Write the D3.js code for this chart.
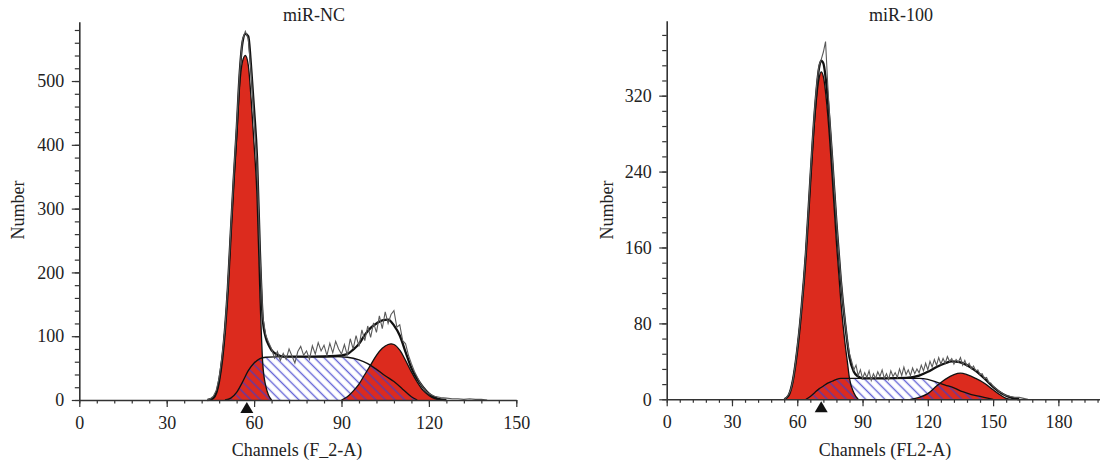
<!DOCTYPE html>
<html>
<head>
<meta charset="utf-8">
<script src="https://cdn.jsdelivr.net/npm/d3@7"></script>
<style>
  body { margin: 0; background: #fff; }
</style>
</head>
<body>
<div id="chart"></div>
<script>
//----------------------------------
// Data: [channel, number]
//----------------------------------

// miR-NC
const ncG1 = [[45,0],[46,3],[48,30],[50,110],[51,175],[52,260],[53,340],[54,410],[55,490],[56,530],[57,540],[58,525],[59,470],[60,400],[61,320],[62,165],[63,55],[64,22],[65,7],[66,0]];
const ncS = [[50,0],[52,3],[54,12],[56,28],[58,46],[60,58],[62,65],[64,67],[70,68],[80,68],[88,68],[92,67],[96,63],[99,57],[102,48],[105,38],[108,29],[111,17],[114,5],[116,0]];
const ncG2 = [[90,0],[92,5],[94,14],[96,25],[98,40],[100,55],[102,70],[104,81],[106,87],[107,88],[108,87],[110,78],[112,62],[114,44],[116,28],[118,15],[120,7],[122,2],[124,0]];
const ncFit = [[44,0],[46,3],[48,30],[50,110],[51,176],[52,263],[53,346],[54,422],[55,508],[56,560],[57,574],[58,570],[59,520],[60,455],[61,380],[62,232],[63,125],[64,98],[65,86],[66,78],[68,71],[70,68],[80,68],[88,69],[92,72],[94,79],[96,88],[98,102],[100,113],[102,120],[104,125],[106,126],[108,117],[110,101],[112,75],[114,50],[116,33],[118,20],[120,10],[122,4],[124,1],[126,0]];
const ncRaw = [[44,0],[45,2],[46,6],[47,15],[48,35],[49,68],[50,112],[51,180],[52,268],[53,352],[54,428],[55,512],[56,565],[57,578],[58,566],[59,512],[60,440],[61,372],[62,228],[63,130],[64,102],[65,90],[66,80],[67,66],[68,76],[69,62],[70,73],[71,64],[72,80],[73,69],[74,58],[75,76],[76,84],[77,70],[78,77],[79,64],[80,85],[81,72],[82,90],[83,77],[84,86],[85,70],[86,89],[87,74],[88,92],[89,80],[90,72],[91,87],[92,70],[93,96],[94,80],[95,101],[96,84],[97,110],[98,93],[99,116],[100,98],[101,121],[102,106],[103,132],[104,112],[105,138],[106,120],[107,134],[108,140],[109,114],[110,118],[111,93],[112,88],[113,70],[114,57],[115,45],[116,36],[117,27],[118,20],[119,14],[120,10],[121,8],[122,6],[124,4],[126,3],[128,2],[130,2],[132,1],[134,2],[136,1],[138,1],[140,0]];
const ncMarker = 57.5;
const ncXTicks = [0, 30, 60, 90, 120, 150];
const ncYTicks = [0, 100, 200, 300, 400, 500];

// miR-100
const m100G1 = [[54,0],[56,4],[58,20],[60,52],[62,97],[64,155],[66,228],[68,295],[70,338],[71,345],[72,340],[74,300],[76,236],[78,165],[80,104],[82,58],[83,40],[84,22],[86,7],[88,0]];
const m100S = [[64,0],[66,3],[68,7],[70,11],[72,14],[74,17],[76,19],[78,21],[80,22],[90,22],[100,22],[110,22],[116,22],[120,21],[124,18],[128,15],[132,12],[136,8],[140,5],[144,3],[148,1],[150,0]];
const m100G2 = [[112,0],[116,2],[120,6],[124,14],[128,21],[132,26],[135,27.5],[138,26],[142,22],[146,17],[150,10],[153,5],[156,1],[158,0]];
const m100Fit = [[54,0],[56,4],[58,20],[60,52],[62,97],[64,155],[66,231],[68,302],[70,349],[71,357],[72,354],[74,317],[76,255],[78,186],[80,126],[82,80],[84,44],[86,29],[88,24],[90,22],[100,22],[110,22.5],[116,25],[120,29],[124,34],[128,38],[131,40],[134,39.5],[138,36],[142,30],[146,22],[150,13],[154,6],[158,2],[162,0]];
const m100Raw = [[54,0],[55,2],[56,5],[57,10],[58,20],[59,35],[60,54],[61,75],[62,98],[63,126],[64,158],[65,195],[66,235],[67,272],[68,306],[69,333],[70,352],[71,358],[72,366],[73,377],[74,332],[75,292],[76,258],[77,222],[78,188],[79,156],[80,128],[81,102],[82,82],[83,62],[84,48],[85,40],[86,31],[87,36],[88,25],[89,31],[90,22],[91,28],[92,23],[93,30],[94,20],[95,27],[96,22],[97,29],[98,24],[99,31],[100,22],[101,27],[102,21],[103,30],[104,24],[105,28],[106,23],[107,32],[108,25],[109,34],[110,26],[111,31],[112,25],[113,33],[114,27],[115,32],[116,28],[117,36],[118,30],[119,38],[120,31],[121,40],[122,34],[123,42],[124,36],[125,44],[126,37],[127,43],[128,38],[129,45],[130,40],[131,43],[132,37],[133,42],[134,39],[135,44],[136,36],[137,41],[138,35],[139,38],[140,32],[141,35],[142,30],[143,31],[144,26],[145,27],[146,22],[147,23],[148,18],[149,17],[150,14],[151,12],[152,10],[153,8],[154,7],[155,5],[156,4],[158,3],[160,2],[162,2],[164,1],[166,0]];
const m100Marker = 71;
const m100XTicks = [0, 30, 60, 90, 120, 150, 180];
const m100YTicks = [0, 80, 160, 240, 320];

//----------------------------------
// SVG Section
//----------------------------------
const font = "'Liberation Serif', 'DejaVu Serif', serif";
const red = "#dc2b1e";

const svg = d3.select("#chart")
    .append("svg")
    .attr("width", 1100)
    .attr("height", 468)
    .style("font-family", font);

// Hatch used for the S phase
svg.append("defs")
  .append("pattern")
    .attr("id", "hatch")
    .attr("patternUnits", "userSpaceOnUse")
    .attr("width", 6.8)
    .attr("height", 6.8)
    .attr("patternTransform", "rotate(-45)")
  .append("line")
    .attr("x1", 3.4).attr("y1", 0)
    .attr("x2", 3.4).attr("y2", 6.8)
    .attr("stroke", "#3f3fcc")
    .attr("stroke-opacity", 0.8)
    .attr("stroke-width", 1.4);

function drawPanel(p) {
    const x = d3.scaleLinear().domain(p.xDomain).range(p.xRange);
    const y = d3.scaleLinear().domain(p.yDomain).range(p.yRange);
    const g = svg.append("g");

    const area = d3.area()
        .x(d => x(d[0])).y0(y(0)).y1(d => y(d[1]))
        .curve(d3.curveMonotoneX);
    const line = d3.line()
        .x(d => x(d[0])).y(d => y(d[1]))
        .curve(d3.curveMonotoneX);

    // red G1 / G2 peaks
    [p.g1, p.g2].forEach(d => {
        g.append("path").datum(d).attr("d", area).attr("fill", red);
    });

    // hatched S phase on top
    g.append("path").datum(p.s).attr("d", area).attr("fill", "url(#hatch)");

    // component outlines
    [p.g1, p.g2, p.s].forEach(d => {
        g.append("path").datum(d).attr("d", line)
            .attr("fill", "none").attr("stroke", "#111").attr("stroke-width", 1.3);
    });

    // model fit
    g.append("path").datum(p.fit).attr("d", line)
        .attr("fill", "none").attr("stroke", "#111").attr("stroke-width", 2.3);

    // raw histogram
    g.append("path").datum(p.raw)
        .attr("d", d3.line().x(d => x(d[0])).y(d => y(d[1])))
        .attr("fill", "none").attr("stroke", "#5a5a5a").attr("stroke-width", 1.1);

    // minor ticks
    g.append("g")
        .attr("transform", `translate(0,${y(0)})`)
        .call(d3.axisBottom(x).tickValues(p.xMinor).tickSize(3.5).tickSizeOuter(0).tickFormat(""))
        .call(a => a.select(".domain").remove());
    g.append("g")
        .attr("transform", `translate(${x(0)},0)`)
        .call(d3.axisLeft(y).tickValues(p.yMinor).tickSize(4.5).tickSizeOuter(0).tickFormat(""))
        .call(a => a.select(".domain").remove());

    // major axes
    const xa = g.append("g")
        .attr("transform", `translate(0,${y(0)})`)
        .call(d3.axisBottom(x).tickValues(p.xTicks).tickSize(7).tickPadding(9).tickSizeOuter(0));
    const ya = g.append("g")
        .attr("transform", `translate(${x(0)},0)`)
        .call(d3.axisLeft(y).tickValues(p.yTicks).tickSize(7.5).tickPadding(7.5).tickSizeOuter(0));

    g.selectAll(".tick line").attr("stroke", "#333").attr("stroke-width", 1.2);
    [xa, ya].forEach(a => {
        a.select(".domain").attr("stroke", "#333").attr("stroke-width", 1.6);
        a.selectAll("text").attr("font-family", font).attr("font-size", 18).attr("fill", "#222");
    });

    // G1 marker
    const mx = x(p.marker), my = y(0);
    g.append("path")
        .attr("d", `M${mx},${my + 2}L${mx + 6.5},${my + 13}L${mx - 6.5},${my + 13}Z`)
        .attr("fill", "#111");

    // labels
    g.append("text")
        .attr("x", p.titleX).attr("y", 21)
        .attr("text-anchor", "middle")
        .style("font-size", "18px").attr("fill", "#222")
        .text(p.title);

    g.append("text")
        .attr("x", p.xLabelX).attr("y", 456)
        .attr("text-anchor", "middle")
        .style("font-size", "18px").attr("fill", "#222")
        .text(p.xLabel);

    g.append("text")
        .attr("transform", `translate(${p.yLabelX},210) rotate(-90)`)
        .attr("text-anchor", "middle")
        .style("font-size", "18px").attr("fill", "#222")
        .text("Number");
}

drawPanel({
    g1: ncG1, g2: ncG2, s: ncS, fit: ncFit, raw: ncRaw, marker: ncMarker,
    xDomain: [0, 150], xRange: [79.3, 516.3],
    yDomain: [0, 593], yRange: [400, 21.7],
    xTicks: ncXTicks, yTicks: ncYTicks,
    xMinor: d3.range(0, 151, 6), yMinor: d3.range(0, 581, 20),
    title: "miR-NC", titleX: 314,
    xLabel: "Channels (F_2-A)", xLabelX: 297,
    yLabelX: 24
});

drawPanel({
    g1: m100G1, g2: m100G2, s: m100S, fit: m100Fit, raw: m100Raw, marker: m100Marker,
    xDomain: [0, 200], xRange: [666.7, 1101.9],
    yDomain: [0, 399], yRange: [399.3, 20.7],
    xTicks: m100XTicks, yTicks: m100YTicks,
    xMinor: d3.range(0, 199, 6), yMinor: d3.range(0, 385, 16),
    title: "miR-100", titleX: 901,
    xLabel: "Channels (FL2-A)", xLabelX: 885,
    yLabelX: 613
});
</script>
</body>
</html>
